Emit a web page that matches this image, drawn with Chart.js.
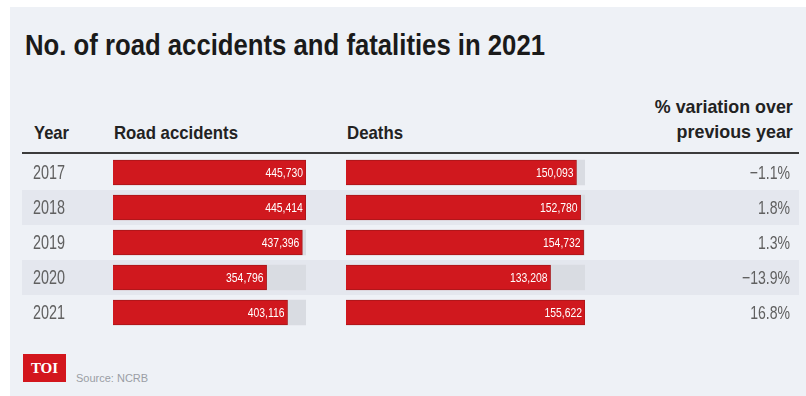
<!DOCTYPE html>
<html>
<head>
<meta charset="utf-8">
<script src="https://cdn.jsdelivr.net/npm/chart.js@4"></script>
<style>
  body { margin: 0; width: 806px; height: 396px; background: #fff; position: relative; overflow: hidden;
         font-family: "Liberation Sans", Arimo, sans-serif; }
  .panel { position: absolute; left: 10px; top: 7px; right: 0; bottom: 0; background: #eef1f6; }
  .fit { position: absolute; white-space: nowrap; transform-origin: left top; }
  .title { left: 25px; top: 30px; font-size: 30px; line-height: 30px; font-weight: bold; color: #1a1a1a; }
  .head { font-size: 19px; line-height: 19px; font-weight: bold; color: #222; top: 123px; }
  .head.right { right: 13px; top: 94px; line-height: 25px; text-align: right; transform-origin: right top; }
  .rule { position: absolute; left: 22px; top: 152px; width: 777px; height: 2px; background: #3b3b3b; }
  canvas { position: absolute; left: 22px; top: 155px; }
  .logo { position: absolute; left: 23px; top: 354px; width: 43px; height: 28px; background: #d3161d;
          color: #fff; font: bold 15px "Liberation Serif", "DejaVu Serif", serif; text-align: center; line-height: 28px; }
  .source { position: absolute; left: 76px; top: 372px; font-size: 11px; color: #9a9ea5; }
</style>
</head>
<body>
<div class="panel"></div>
<div class="fit title" data-w="520">No. of road accidents and fatalities in 2021</div>
<div class="fit head" style="left:34px" data-w="35">Year</div>
<div class="fit head" style="left:114px" data-w="124">Road accidents</div>
<div class="fit head" style="left:347px" data-w="56">Deaths</div>
<div class="fit head right" data-w="138">% variation over<br>previous year</div>
<div class="rule"></div>
<canvas id="accidents" width="777" height="175"></canvas>
<canvas id="deaths" width="777" height="175"></canvas>
<div class="logo">TOI</div>
<div class="source">Source: NCRB</div>
<script>
const years = ["2017", "2018", "2019", "2020", "2021"];
const accidents = [445730, 445414, 437396, 354796, 403116];
const accidentLabels = ["445,730", "445,414", "437,396", "354,796", "403,116"];
const deaths = [150093, 152780, 154732, 133208, 155622];
const deathLabels = ["150,093", "152,780", "154,732", "133,208", "155,622"];
const variation = ["\u22121.1%", "1.8%", "1.3%", "\u221213.9%", "16.8%"];

const accMax = Math.max(...accidents);
const deathMax = Math.max(...deaths);

const RED = "#d0181e";
const RED_EDGE = "#a8161a";
const TRACK = "#d9dce2";
const BAND = "#e4e7ee";
const FONT = "'Liberation Sans', Arimo, sans-serif";

// squeeze the html headings to the narrow widths of the original
document.querySelectorAll("[data-w]").forEach((el) => {
  const s = el.dataset.w / el.getBoundingClientRect().width;
  el.style.transform = `scaleX(${s})`;
});

// narrow text, positioned on the category scale
function narrowText(ctx, text, x, y, align, squeeze) {
  ctx.save();
  ctx.translate(x, y);
  ctx.scale(squeeze, 1);
  ctx.textAlign = align;
  ctx.fillText(text, 0, 0);
  ctx.restore();
}

// alternating grey rows across the table plus the year column
const rowBands = {
  id: "rowBands",
  beforeDraw(chart) {
    const { ctx, scales: { y }, chartArea } = chart;
    const slot = chartArea.height / years.length;
    ctx.save();
    ctx.fillStyle = BAND;
    years.forEach((yr, i) => {
      if (i % 2 === 1) {
        ctx.fillRect(0, y.getPixelForValue(i) - slot / 2, chart.width, slot);
      }
    });
    ctx.fillStyle = "#606060";
    ctx.font = "20px " + FONT;
    ctx.textBaseline = "middle";
    years.forEach((yr, i) => narrowText(ctx, yr, 11, y.getPixelForValue(i) + 1, "left", 0.72));
    ctx.restore();
  },
};

// % variation column on the right
const variationColumn = {
  id: "variationColumn",
  afterDraw(chart) {
    const { ctx, scales: { y } } = chart;
    ctx.save();
    ctx.fillStyle = "#606060";
    ctx.font = "19px " + FONT;
    ctx.textBaseline = "middle";
    variation.forEach((v, i) => narrowText(ctx, v, 768, y.getPixelForValue(i) + 1, "right", 0.74));
    ctx.restore();
  },
};

// white numbers inside the end of each bar
function valueLabels(labels) {
  return {
    id: "valueLabels",
    afterDatasetsDraw(chart) {
      const { ctx } = chart;
      const meta = chart.getDatasetMeta(0);
      ctx.save();
      ctx.fillStyle = "#fff";
      ctx.font = "13px " + FONT;
      ctx.textBaseline = "middle";
      meta.data.forEach((bar, i) => {
        narrowText(ctx, labels[i], bar.x - 3, bar.y + 1, "right", 0.8);
      });
      ctx.restore();
    },
  };
}

function barDatasets(values, max) {
  return [
    { data: values, backgroundColor: RED, borderColor: RED_EDGE, borderWidth: 1,
      barThickness: 25, grouped: false, order: 0 },
    { data: values.map(() => max), backgroundColor: TRACK, barThickness: 25, grouped: false, order: 1 },
  ];
}

const common = {
  indexAxis: "y",
  responsive: false,
  animation: false,
  plugins: { legend: { display: false }, tooltip: { enabled: false } },
};

new Chart(document.getElementById("accidents"), {
  type: "bar",
  data: { labels: years, datasets: barDatasets(accidents, accMax) },
  options: {
    ...common,
    layout: { padding: { left: 91, right: 493, top: 0, bottom: 0 } },
    scales: {
      x: { display: false, min: 0, max: accMax },
      y: { display: false },
    },
  },
  plugins: [rowBands, valueLabels(accidentLabels)],
});

new Chart(document.getElementById("deaths"), {
  type: "bar",
  data: { labels: years, datasets: barDatasets(deaths, deathMax) },
  options: {
    ...common,
    layout: { padding: { left: 324, right: 214, top: 0, bottom: 0 } },
    scales: {
      x: { display: false, min: 0, max: deathMax },
      y: { display: false },
    },
  },
  plugins: [variationColumn, valueLabels(deathLabels)],
});
</script>
</body>
</html>
